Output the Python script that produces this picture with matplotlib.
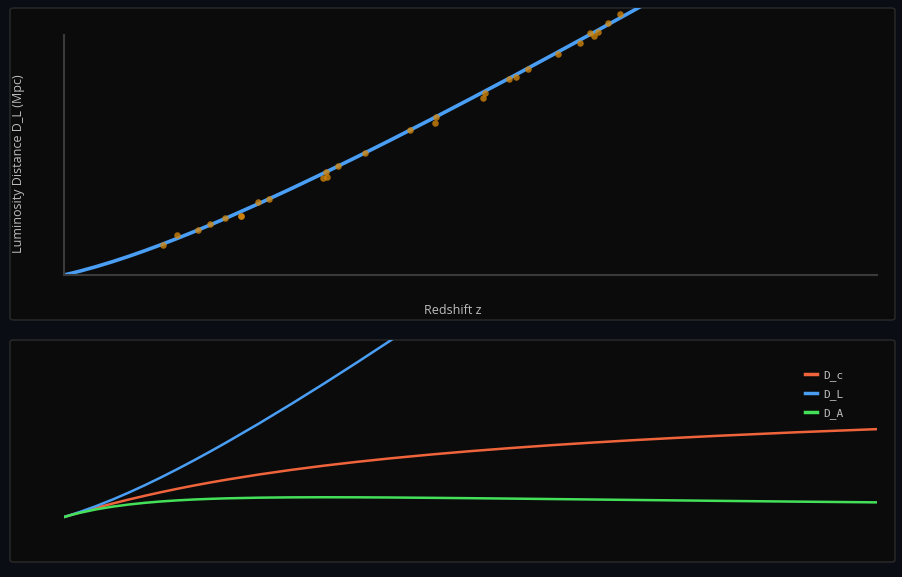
'cosmological distances: D_L fit to sample points, and D_c / D_L / D_A comparison'

import matplotlib.pyplot as plt
from matplotlib.patches import FancyBboxPatch

# redshift grid and distances in Mpc
z = [0, 0.05, 0.1, 0.2, 0.3, 0.4, 0.5, 0.6, 0.7, 0.8, 0.9, 1.0, 1.2, 1.4,
     1.6, 1.8, 2.0, 2.25, 2.5, 2.75, 3.0, 3.25, 3.5, 3.75, 4.0, 4.5, 5.0]
d_c = [0, 212, 418, 817, 1195, 1552, 1889, 2206, 2506, 2788, 3054, 3304,
       3763, 4174, 4544, 4877, 5180, 5520, 5828, 6103, 6356, 6585, 6796,
       6990, 7170, 7493, 7775]
d_l = [0, 222, 460, 980, 1553, 2172, 2833, 3530, 4260, 5018, 5802, 6608,
       8280, 10019, 11813, 13656, 15539, 17941, 20396, 22887, 25423, 27985,
       30583, 33204, 35852, 41213, 46652]
d_a = [0, 202, 380, 681, 919, 1108, 1259, 1379, 1474, 1549, 1607, 1652,
       1711, 1739, 1748, 1742, 1727, 1699, 1665, 1628, 1589, 1549, 1510,
       1472, 1434, 1362, 1296]

# observed sample
obs_z = [0.606, 0.697, 0.826, 0.898, 0.990, 1.090, 1.090, 1.195, 1.259,
         1.595, 1.616, 1.611, 1.687, 1.851, 2.128, 2.288, 2.282, 2.575,
         2.589, 2.739, 2.780, 2.854, 3.040, 3.173, 3.235, 3.261, 3.282,
         3.348, 3.419]
obs_dl = [3472, 4572, 5208, 5880, 6563, 6829, 6829, 8449, 8796, 11262,
          11285, 11944, 12581, 14086, 16782, 18322, 17558, 20451, 21030,
          22720, 22882, 23808, 25613, 26887, 27975, 27697, 28160, 29201,
          30208]

W, H = 903, 577
bg = '#0a0d14'
panel = '#0b0b0b'
edge = '#2c2c2c'
axis_col = '#3a3a3a'
text_col = '#bdbdbd'
blue = '#4a9ff5'
red = '#f0643c'
green = '#44e05a'
orange = '#d4860b'

fig = plt.figure(figsize=(W/100, H/100), dpi=100, facecolor=bg)


def px_box(x0, y0, x1, y1):
    return [x0/W, 1 - y1/H, (x1-x0)/W, (y1-y0)/H]


# panel backgrounds
for (x0, y0, x1, y1) in [(10, 8, 895, 320), (10, 340, 895, 562)]:
    l, b, w, h = px_box(x0, y0, x1, y1)
    fig.patches.append(FancyBboxPatch((l, b), w, h,
                                      boxstyle='round,pad=0,rounding_size=0.004',
                                      transform=fig.transFigure, facecolor=panel,
                                      edgecolor=edge, linewidth=1, zorder=-5))

# top chart
ax1 = fig.add_axes(px_box(64, 8, 877, 275))
ax1.set_facecolor('none')
ax1.plot(z, d_l, color=blue, lw=2.6, solid_capstyle='round', zorder=2)
ax1.scatter(obs_z, obs_dl, s=22, color=orange, alpha=0.78, lw=0, zorder=3)
ax1.set_xlim(0, 5)
ax1.set_ylim(0, 30900)
for s in ['top', 'right']:
    ax1.spines[s].set_visible(False)
for s in ['left', 'bottom']:
    ax1.spines[s].set_color(axis_col)
    ax1.spines[s].set_linewidth(1.5)
ax1.spines['left'].set_bounds(0, 27780)
ax1.set_xticks([])
ax1.set_yticks([])
fig.text(452.5/W, 1 - 311/H, 'Redshift z', color=text_col, fontsize=9,
         family='Open Sans', ha='center', va='center')
fig.text(19/W, 1 - 164/H, 'Luminosity Distance D_L (Mpc)', color=text_col,
         fontsize=9, family='Open Sans', rotation=90, ha='center', va='center')

# bottom chart
ax2 = fig.add_axes(px_box(64, 340, 877, 562))
ax2.set_facecolor('none')
ax2.plot(z, d_c, color=red, lw=1.8, label='D_c')
ax2.plot(z, d_l, color=blue, lw=1.8, label='D_L')
ax2.plot(z, d_a, color=green, lw=1.8, label='D_A')
ax2.set_xlim(0, 5)
ax2.set_ylim(-3980, 15660)
ax2.axis('off')
leg = ax2.legend(loc='upper left', bbox_to_anchor=(805/W, 1 - 370/H),
                 bbox_transform=fig.transFigure, frameon=False,
                 prop={'family': 'DejaVu Sans Mono', 'size': 8},
                 handlelength=1.1, handletextpad=0.5, labelspacing=0.72,
                 borderpad=0, borderaxespad=0)
for t in leg.get_texts():
    t.set_color(text_col)
for h in leg.get_lines():
    h.set_linewidth(2.5)

plt.savefig('out.png', dpi=100, facecolor=bg)
